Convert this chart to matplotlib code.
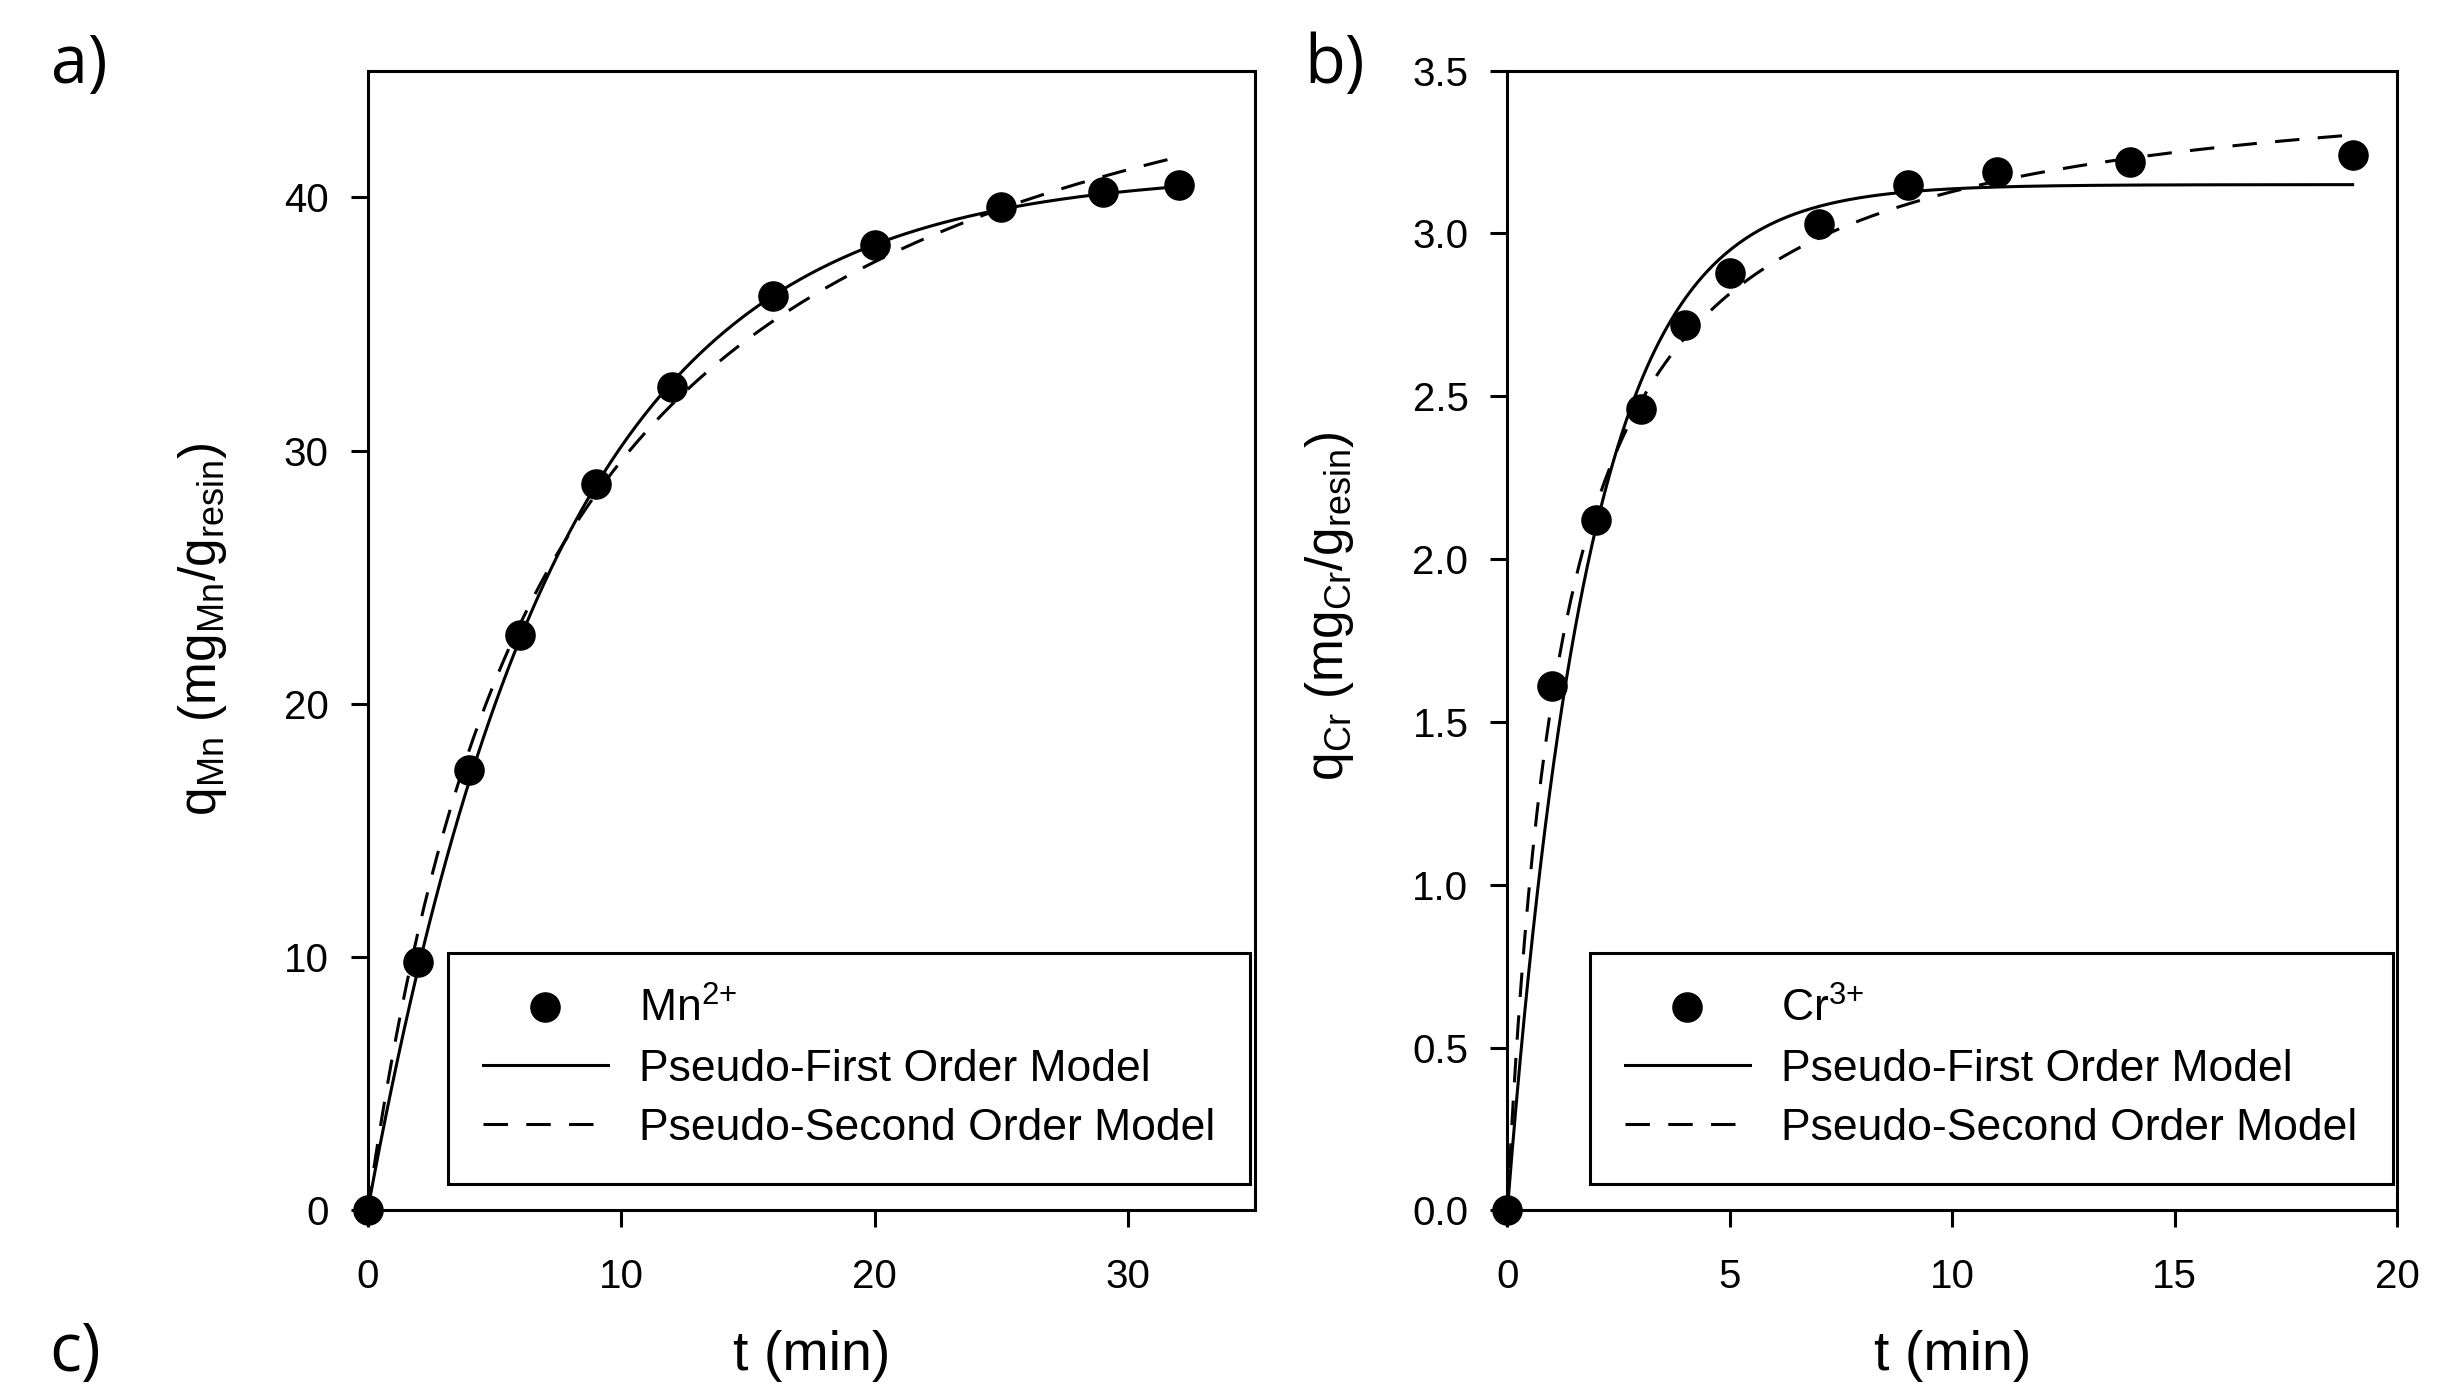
import numpy as np
import matplotlib.pyplot as plt

plt.rcParams['font.family'] = ['Liberation Sans', 'DejaVu Sans']
plt.rcParams['mathtext.fontset'] = 'custom'
plt.rcParams['mathtext.rm'] = 'Liberation Sans'
plt.rcParams['mathtext.it'] = 'Liberation Sans:italic'

# --- Data ---
t_mn = [0, 2, 4, 6, 9, 12, 16, 20, 25, 29, 32]
q_mn = [0, 9.8, 17.4, 22.7, 28.7, 32.5, 36.1, 38.1, 39.6, 40.2, 40.5]

t_cr = [0, 1, 2, 3, 4, 5, 7, 9, 11, 14, 19]
q_cr = [0, 1.61, 2.12, 2.46, 2.72, 2.88, 3.03, 3.15, 3.19, 3.22, 3.24]

# fitted model parameters (estimated from the drawn curves)
mn_pfo_qe, mn_pfo_k = 41.0, 0.133
mn_pso_qe, mn_pso_k = 51.0, 0.00271
cr_pfo_qe, cr_pfo_k = 3.15, 0.55
cr_pso_qe, cr_pso_k = 3.52, 0.227


def pfo(t, qe, k):
    return qe * (1 - np.exp(-k * t))


def pso(t, qe, k):
    return qe**2 * k * t / (1 + qe * k * t)


LW = 2.2
MS = 21
TICK_FS = 29
LEG_FS = 32
LAB_FS = 40

fig = plt.figure(figsize=(24.51, 13.85), dpi=100)
ax1 = fig.add_axes([0.150, 0.126, 0.362, 0.823])
ax2 = fig.add_axes([0.615, 0.126, 0.363, 0.823])


def draw_panel(ax, t, q, pfo_par, pso_par, ion_label, xlim, ylim, xticks, yticks, yfmt):
    tt = np.linspace(0, t[-1], 400)
    ax.plot(t, q, 'o', color='black', ms=MS, label=ion_label, zorder=3, clip_on=False)
    ax.plot(tt, pfo(tt, *pfo_par), '-', color='black', lw=LW, label='Pseudo-First Order Model')
    ax.plot(tt, pso(tt, *pso_par), color='black', lw=LW, dashes=(8, 6),
            label='Pseudo-Second Order Model')
    ax.set_xlim(*xlim)
    ax.set_ylim(*ylim)
    ax.set_xticks(xticks)
    ax.set_yticks(yticks)
    ax.set_yticklabels([yfmt.format(v) for v in yticks])
    ax.tick_params(direction='out', length=12, width=LW, labelsize=TICK_FS)
    ax.tick_params(axis='x', pad=22)
    ax.tick_params(axis='y', pad=16)
    for sp in ax.spines.values():
        sp.set_linewidth(LW)
    ax.set_xlabel('t (min)', fontsize=LAB_FS, va='center')
    ax.xaxis.set_label_coords(0.5, -0.128)
    leg = ax.legend(loc='lower right', bbox_to_anchor=(0.995, 0.023), fontsize=LEG_FS,
                    numpoints=1, fancybox=False, edgecolor='black', framealpha=1,
                    borderpad=0.8, handlelength=2.8, handletextpad=0.7,
                    labelspacing=0.4, borderaxespad=0)
    leg.get_frame().set_linewidth(LW)


draw_panel(ax1, t_mn, q_mn, (mn_pfo_qe, mn_pfo_k), (mn_pso_qe, mn_pso_k),
           r'Mn$^{\mathrm{2}{+}}$', (0, 35), (0, 45), [0, 10, 20, 30],
           [0, 10, 20, 30, 40], '{:.0f}')
ax1.set_ylabel(r'q$_{\mathrm{Mn}}$ (mg$_{\mathrm{Mn}}$/g$_{\mathrm{resin}}$)',
               fontsize=37, va='center')
ax1.yaxis.set_label_coords(-0.186, 0.51)

draw_panel(ax2, t_cr, q_cr, (cr_pfo_qe, cr_pfo_k), (cr_pso_qe, cr_pso_k),
           r'Cr$^{\mathrm{3}{+}}$', (0, 20), (0, 3.5), [0, 5, 10, 15, 20],
           [0, 0.5, 1.0, 1.5, 2.0, 2.5, 3.0, 3.5], '{:.1f}')
ax2.set_ylabel(r'q$_{\mathrm{Cr}}$ (mg$_{\mathrm{Cr}}$/g$_{\mathrm{resin}}$)',
               fontsize=37, va='center')
ax2.yaxis.set_label_coords(-0.200, 0.53)

# panel letters
for x, y, s in [(0.021, 0.940, 'a)'), (0.532, 0.940, 'b)'), (0.020, 0.010, 'c)')]:
    fig.text(x, y, s, fontsize=48, family=['Open Sans', 'DejaVu Sans'], va='baseline')

fig.savefig('out.png', dpi=100)
